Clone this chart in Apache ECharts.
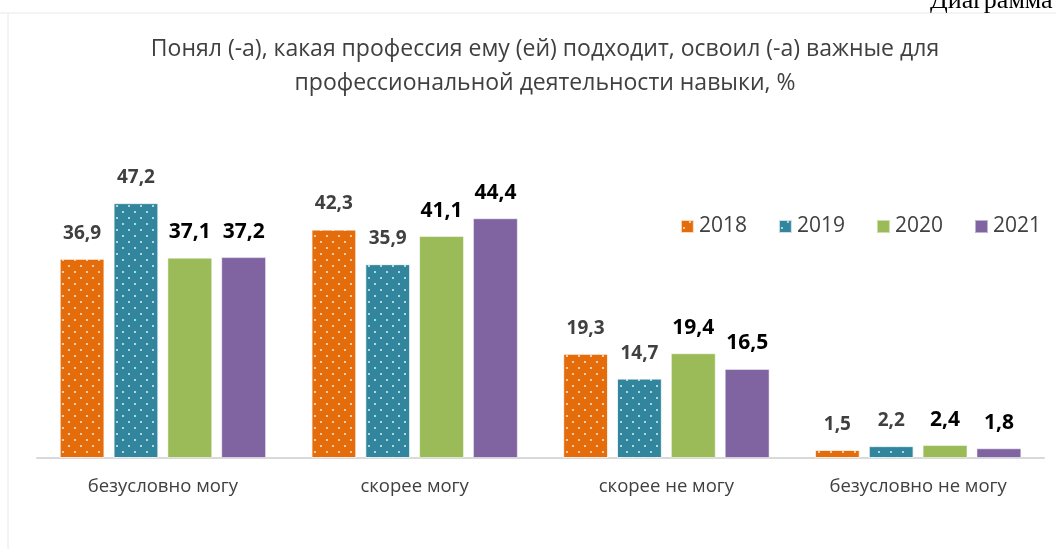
<!DOCTYPE html>
<html>
<head>
<meta charset="utf-8">
<script src="https://cdn.jsdelivr.net/npm/echarts@6/dist/echarts.min.js"></script>
<style>
  html, body { margin: 0; padding: 0; background: #fff; }
  #chart { width: 1056px; height: 549px; }
</style>
</head>
<body>
<div id="chart"></div>
<script>
  // данные с диаграммы
  var categories = ['безусловно могу', 'скорее могу', 'скорее не могу', 'безусловно не могу'];
  var years = ['2018', '2019', '2020', '2021'];
  var v2018 = [36.9, 42.3, 19.3, 1.5];
  var v2019 = [47.2, 35.9, 14.7, 2.2];
  var v2020 = [37.1, 41.1, 19.4, 2.4];
  var v2021 = [37.2, 44.4, 16.5, 1.8];

  var colors = ['#E46C0A', '#31859C', '#9BBB59', '#8064A2'];
  var dots = {
    symbol: 'circle',
    symbolSize: 0.55,
    color: 'rgba(255,255,255,0.8)',
    dashArrayX: [[6, 6], [0, 6, 6, 0]],
    dashArrayY: [4, 2],
    rotation: 0
  };

  function mkSeries(name, data, idx, patterned, boldBlack) {
    return {
      name: name,
      type: 'bar',
      data: data,
      barGap: '20%',
      barCategoryGap: '18%',
      itemStyle: {
        color: colors[idx],
        borderColor: 'rgba(255,255,255,0.5)',
        borderWidth: 1,
        decal: patterned ? dots : null
      },
      label: {
        show: true,
        position: 'top',
        distance: boldBlack ? 15 : 16,
        fontFamily: 'Open Sans',
        fontWeight: 'bold',
        fontSize: boldBlack ? 21 : 19,
        color: boldBlack ? '#000' : '#404040',
        formatter: function (p) { return String(p.value).replace('.', ','); }
      }
    };
  }

  var chart = echarts.init(document.getElementById('chart'));
  chart.setOption({
    animation: false,
    title: {
      text: 'Понял (-а), какая профессия ему (ей) подходит, освоил (-а) важные для\nпрофессиональной деятельности навыки, %',
      left: 540,
      textAlign: 'center',
      top: 27,
      textStyle: {
        fontFamily: 'Open Sans',
        fontWeight: 'normal',
        fontSize: 23,
        lineHeight: 34,
        color: '#404040'
      }
    },
    legend: {
      data: years,
      right: 10,
      top: 211,
      itemWidth: 13,
      itemHeight: 13,
      itemGap: 31,
      icon: 'rect',
      textStyle: { fontFamily: 'Open Sans', fontSize: 21, color: '#404040' }
    },
    grid: { left: 37, right: 12, top: 188, bottom: 91 },
    xAxis: {
      type: 'category',
      data: categories,
      axisTick: { show: false },
      axisLine: { lineStyle: { color: '#d9d9d9', width: 2 } },
      axisLabel: { margin: 19, fontFamily: 'Open Sans', fontSize: 18.5, color: '#404040' }
    },
    yAxis: {
      type: 'value',
      min: 0,
      max: 50,
      show: false,
      splitLine: { show: false }
    },
    graphic: [
      { type: 'line', shape: { x1: 0, y1: 13, x2: 1056, y2: 13 }, style: { stroke: '#e8e8e8', lineWidth: 1 } },
      { type: 'line', shape: { x1: 8, y1: 13, x2: 8, y2: 549 }, style: { stroke: '#e8e8e8', lineWidth: 1 } },
      { type: 'text', left: 930, top: -12, style: { text: 'Диаграмма', font: '26px "Liberation Serif"', fill: '#000' } }
    ],
    series: [
      mkSeries(years[0], v2018, 0, true, false),
      mkSeries(years[1], v2019, 1, true, false),
      mkSeries(years[2], v2020, 2, false, true),
      mkSeries(years[3], v2021, 3, false, true)
    ]
  });
</script>
</body>
</html>
